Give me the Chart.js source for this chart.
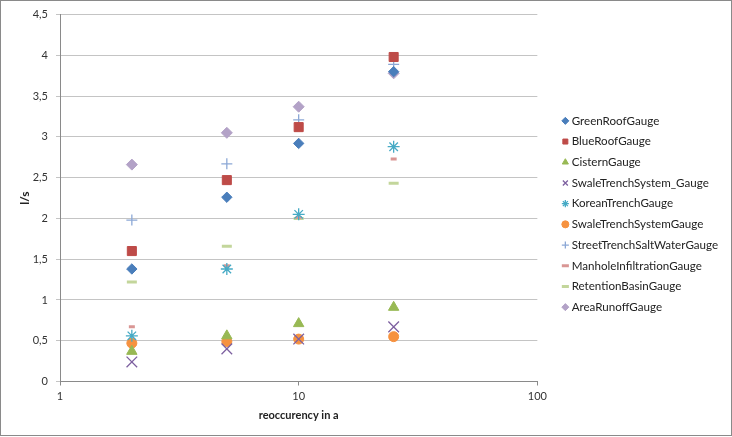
<!DOCTYPE html>
<html>
<head>
<meta charset="utf-8">
<script src="https://cdn.jsdelivr.net/npm/chart.js@4/dist/chart.umd.min.js"></script>
<style>
  html, body { margin: 0; padding: 0; background: #fff; }
  #wrap { position: relative; width: 732px; height: 437px; }
  #frame { position: absolute; left: 0; top: 0; width: 732px; height: 436px; box-sizing: border-box; border: 1px solid #8a8a8a; pointer-events: none; }
</style>
</head>
<body>
<div id="wrap">
  <canvas id="chart" width="732" height="437"></canvas>
  <div id="frame"></div>
</div>
<script>
// ===== Data =====
const returnPeriods = [2, 5, 10, 25];
const xTicks = [1, 10, 100];

const greenRoof    = [1.38, 2.26, 2.92, 3.80];
const blueRoof     = [1.60, 2.47, 3.12, 3.98];
const cistern      = [0.37, 0.56, 0.71, 0.91];
const swaleTrenchX = [0.24, 0.40, 0.52, 0.67];
const koreanTrench = [0.56, 1.38, 2.05, 2.88];
const swaleTrench  = [0.47, 0.49, 0.52, 0.55];
const streetTrench = [1.98, 2.67, 3.21, 3.89];
const manhole      = [0.67, 1.42, 2.01, 2.73];
const retention    = [1.22, 1.66, 2.00, 2.43];
const areaRunoff   = [2.66, 3.05, 3.37, 3.78];

const FONT = 'Lato, "Open Sans", sans-serif';

function points(values) {
  return values.map((v, i) => ({ x: returnPeriods[i], y: v }));
}

// ===== Series styles =====
function series(label, values, style, color, radius, width) {
  return {
    label: label,
    data: points(values),
    pointStyle: style,
    pointRadius: radius,
    pointHoverRadius: radius,
    backgroundColor: color,
    borderColor: color,
    pointBorderWidth: width,
    borderWidth: width
  };
}

const datasets = [
  series('GreenRoofGauge',              greenRoof,    'rectRot',  '#4a7ebb', 5.2, 1),
  series('BlueRoofGauge',               blueRoof,     'rect',     '#be4b48', 6.4, 1),
  series('CisternGauge',                cistern,      'triangle', '#98b954', 6,   1),
  series('SwaleTrenchSystem_Gauge',     swaleTrenchX, 'crossRot', '#7d60a0', 7.5, 1.3),
  series('KoreanTrenchGauge',           koreanTrench, 'star',     '#46aac5', 6,   1.3),
  series('SwaleTrenchSystemGauge',      swaleTrench,  'circle',   '#f69240', 5,   1),
  series('StreetTrenchSaltWaterGauge',  streetTrench, 'cross',    '#8ca8d6', 5.5, 1.3),
  series('ManholeInfiltrationGauge',    manhole,      'line',     '#d99694', 3,   3),
  series('RetentionBasinGauge',         retention,    'line',     '#c3d69b', 5,   3),
  series('AreaRunoffGauge',             areaRunoff,   'rectRot',  '#b3a2c7', 5.5, 1)
];

// move the legend a little right and up from where Chart.js puts it
const legendShift = {
  id: 'legendShift',
  afterLayout(chart) {
    const lg = chart.legend;
    lg.left += 18.4;
    lg.right += 18.4;
    lg.top -= 7;
    lg.bottom -= 7;
  }
};

new Chart(document.getElementById('chart'), {
  type: 'scatter',
  data: { datasets: datasets },
  plugins: [legendShift],
  options: {
    responsive: false,
    animation: false,
    layout: { padding: { left: 0, right: 22.3, top: 14, bottom: 9 } },
    plugins: {
      tooltip: { enabled: false },
      legend: {
        position: 'right',
        align: 'center',
        labels: {
          usePointStyle: true,
          boxWidth: 1,
          boxHeight: 5,
          padding: 9.1,
          color: '#222',
          font: { family: FONT, size: 11.6 }
        }
      }
    },
    scales: {
      x: {
        type: 'logarithmic',
        min: 1,
        max: 100,
        afterBuildTicks(scale) {
          scale.ticks = xTicks.map(v => ({ value: v }));
        },
        afterFit(scale) { scale.height = 46.5; },
        ticks: {
          autoSkip: false,
          maxRotation: 0,
          padding: 4,
          color: '#333',
          font: { family: FONT, size: 11 },
          callback: v => String(v)
        },
        grid: { drawOnChartArea: false, drawTicks: true, tickLength: 4, color: '#8a8a8a' },
        border: { color: '#8a8a8a' },
        title: {
          display: true,
          text: 'reoccurency in a',
          color: '#222',
          font: { family: FONT, size: 11, weight: 'bold' },
          padding: { top: 0, bottom: 6.4 }
        }
      },
      y: {
        min: 0,
        max: 4.5,
        afterFit(scale) { scale.width = 60; },
        ticks: {
          stepSize: 0.5,
          padding: 8,
          color: '#333',
          font: { family: FONT, size: 11 },
          callback: v => String(v).replace('.', ',')
        },
        grid: { color: '#c4c4c4', tickLength: 4 },
        border: { color: '#8a8a8a' },
        title: {
          display: true,
          text: 'l/s',
          color: '#222',
          font: { family: FONT, size: 12, weight: 'bold' },
          padding: { top: 18, bottom: 0 }
        }
      }
    }
  }
});
</script>
</body>
</html>
